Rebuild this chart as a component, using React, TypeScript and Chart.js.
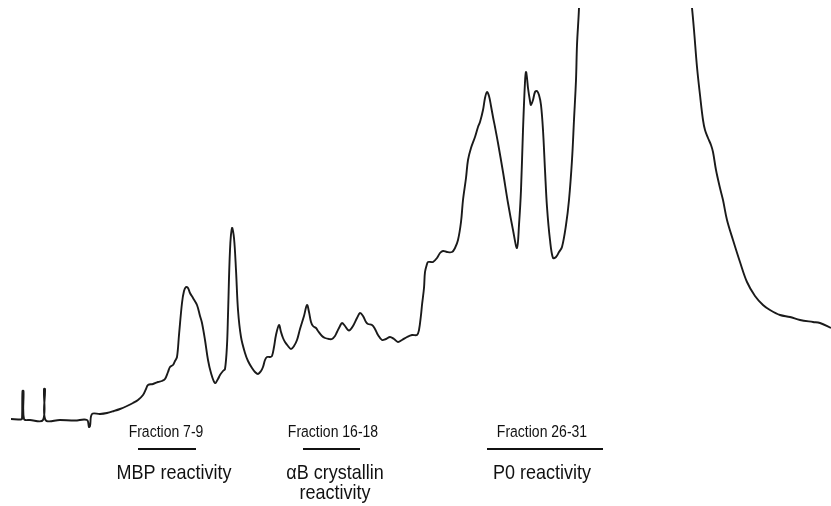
import React, { useEffect, useRef } from "react";
import { Chart, registerables } from "chart.js";

Chart.register(...registerables);

// Retention time (arbitrary units) and detector absorbance (arbitrary units)
const retentionTime: number[] = [
  11, 21, 22, 22.5, 23.5, 24, 30, 43, 44, 45, 45.5, 60, 75, 87, 89, 90, 92, 100, 107, 114,
  120, 127, 133, 138, 143, 146, 148, 153, 158, 162, 165, 168, 170, 173, 175, 177, 179, 182, 184, 186,
  188, 190, 193, 197, 200, 202, 205, 208, 211, 215, 218, 220, 223, 225, 227, 228, 230, 232, 234, 236,
  238, 241, 245, 248, 252, 255, 258, 261, 263, 265, 267, 270, 272, 274, 276, 279, 281, 283, 285, 288,
  291, 294, 297, 300, 304, 307, 309, 311, 313, 316, 318, 322, 325, 329, 332, 335, 337, 340, 342, 345,
  348, 350, 353, 357, 360, 363, 366, 368, 372, 375, 378, 382, 386, 390, 394, 398, 402, 407, 412, 417,
  419, 421, 422, 424, 425, 427, 428, 431, 433, 437, 440, 443, 447, 452, 455, 458, 461, 463, 466, 468,
  471, 475, 478, 480, 483, 485, 487, 489, 491, 493, 495, 498, 503, 508, 513, 517, 519, 521, 523, 525,
  526, 527, 528, 530, 531, 533, 535, 537, 539, 541, 543, 545, 547, 550, 553, 556, 559, 562, 566, 569,
  572, 574, 576, 577, 579, 580, 590, 610, 640, 670, 686, 690, 692, 694, 697, 700, 703, 705, 708, 711,
  713, 716, 720, 723, 727, 733, 740, 747, 755, 763, 770, 780, 790, 800, 813, 820, 831,
];

const absorbance: number[] = [
  87, 86.5, 87, 115, 115, 87, 86, 86, 117, 117, 86, 86, 85.5, 86, 79, 80, 92, 92, 93, 95,
  97, 100, 103, 106, 111, 117, 121, 122, 124, 125, 127, 134, 139, 141, 145, 149, 171, 203, 215, 219,
  218, 213, 208, 201, 190, 183, 166, 146, 133, 123, 127, 131, 135, 137, 161, 191, 256, 278, 268, 236,
  196, 169, 153, 145, 138, 134, 132, 135, 139, 146, 149, 149, 150, 159, 171, 181, 174, 168, 164, 160,
  157, 160, 166, 177, 190, 201, 194, 184, 180, 178, 175, 170, 168, 167, 167, 170, 174, 180, 183, 180,
  176, 176, 180, 188, 193, 190, 184, 182, 181, 177, 171, 166, 167, 169, 167, 164, 166, 169, 171, 171,
  176, 191, 201, 218, 234, 242, 244, 244, 244, 248, 253, 255, 254, 254, 258, 266, 284, 306, 328, 346,
  358, 369, 379, 384, 396, 408, 414, 410, 400, 389, 379, 363, 334, 303, 276, 258, 281, 316, 376, 424,
  434, 428, 418, 405, 401, 406, 414, 415, 411, 401, 376, 336, 299, 266, 248, 249, 254, 259, 281, 306,
  346, 386, 426, 461, 498, 536, 706, 806, 826, 756, 566, 516, 498, 476, 439, 411, 386, 376, 368, 361,
  354, 336, 318, 306, 286, 266, 244, 224, 210, 201, 196, 191, 189, 186, 184, 183, 178,
];

// Fraction annotations (in retention-time units)
const fractionLabels: string[] = ["Fraction 7-9", "Fraction 16-18", "Fraction 26-31"];
const fractionStart: number[] = [138, 303, 487];
const fractionEnd: number[] = [196, 360, 603];
const fractionLabelCenter: number[] = [166, 333, 542];
const reactivityLabels: string[][] = [["MBP reactivity"], ["\u03B1B crystallin", "reactivity"], ["P0 reactivity"]];
const reactivityCenter: number[] = [174, 335, 542];

const annotationPlugin = {
  id: "fractionAnnotations",
  afterDraw(chart: any) {
    const ctx = chart.ctx;
    const xs = chart.scales.x;
    ctx.save();
    ctx.fillStyle = "#111";
    ctx.strokeStyle = "#111";
    ctx.textAlign = "center";
    ctx.textBaseline = "alphabetic";
    for (let i = 0; i < fractionLabels.length; i++) {
      const x0 = xs.getPixelForValue(fractionStart[i]);
      const x1 = xs.getPixelForValue(fractionEnd[i]);
      ctx.lineWidth = 2;
      ctx.beginPath();
      ctx.moveTo(x0, 449);
      ctx.lineTo(x1, 449);
      ctx.stroke();

      ctx.save();
      ctx.translate(xs.getPixelForValue(fractionLabelCenter[i]), 437);
      ctx.scale(1, 1.12);
      ctx.font = '14px "Liberation Sans", Arial, sans-serif';
      ctx.fillText(fractionLabels[i], 0, 0);
      ctx.restore();

      reactivityLabels[i].forEach((line, j) => {
        ctx.save();
        ctx.translate(xs.getPixelForValue(reactivityCenter[i]), 479 + j * 20);
        ctx.scale(1, 1.1);
        ctx.font = '18px "Liberation Sans", Arial, sans-serif';
        ctx.fillText(line, 0, 0);
        ctx.restore();
      });
    }
    ctx.restore();
  },
};

export default function App() {
  const ref = useRef<HTMLCanvasElement | null>(null);
  useEffect(() => {
    if (!ref.current) return;
    const points = retentionTime.map((t, i) => ({ x: t, y: absorbance[i] }));
    const chart = new Chart(ref.current, {
      type: "line",
      data: {
        datasets: [
          {
            data: points,
            borderColor: "#1a1a1a",
            borderWidth: 1.9,
            pointRadius: 0,
            fill: false,
            tension: 0.35,
            clip: { left: 2, right: 2, top: 0, bottom: 2 } as any,
          },
        ],
      },
      options: {
        animation: false,
        responsive: false,
        maintainAspectRatio: false,
        layout: { padding: { top: 8, left: 0, right: 0, bottom: 0 } },
        plugins: { legend: { display: false }, tooltip: { enabled: false } },
        scales: {
          x: { type: "linear", min: 0, max: 831, display: false },
          y: { type: "linear", min: 0, max: 498, display: false },
        },
      },
      plugins: [annotationPlugin],
    });
    return () => chart.destroy();
  }, []);
  return (
    <div style={{ position: "absolute", left: 0, top: 0, width: 831, height: 506, background: "#fff" }}>
      <canvas ref={ref} width={831} height={506} />
    </div>
  );
}
